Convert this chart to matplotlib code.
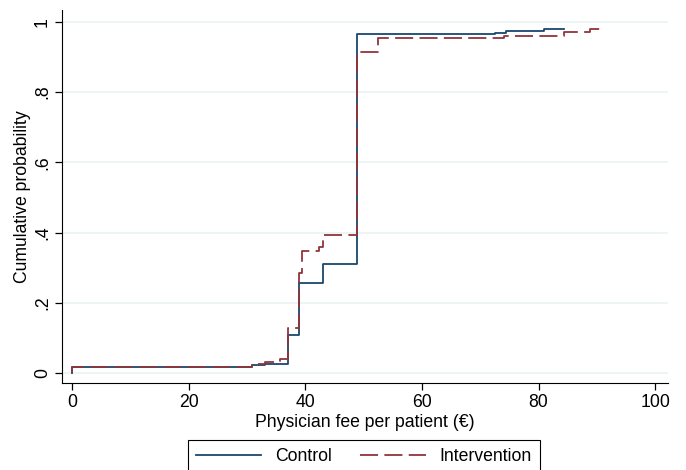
import matplotlib.pyplot as plt

plt.rcParams["font.family"] = ["Liberation Sans", "DejaVu Sans"]

# step points (fee, cumulative probability)
control_fee = [0, 0, 30.8, 33.1, 37.05, 39.0, 43.0, 48.9, 72.6, 74.4, 80.9, 84.4]
control_cdf = [0, 0.018, 0.022, 0.026, 0.107, 0.255, 0.31, 0.966, 0.969, 0.975, 0.979, 0.979]

interv_fee = [0, 0, 30.8, 33.1, 35.7, 37.05, 39.0, 39.4, 42.3, 43.1, 48.9, 52.4,
              74.0, 84.3, 88.8, 91.1]
interv_cdf = [0, 0.018, 0.025, 0.032, 0.041, 0.128, 0.284, 0.348, 0.36, 0.393,
              0.914, 0.953, 0.960, 0.971, 0.980, 0.980]

navy = "#1a476f"
maroon = "#90353b"
fs = 12.7

fig = plt.figure(figsize=(6.86, 4.70), dpi=100)
ax = fig.add_axes([0.0904, 0.185, 0.8834, 0.794])

ax.plot(control_fee, control_cdf, drawstyle="steps-post", color=navy, lw=1.3,
        label="Control")
ax.plot(interv_fee, interv_cdf, drawstyle="steps-post", color=maroon, lw=1.3,
        dashes=(10, 3.5), label="Intervention")

ax.set_xlim(-1.7, 102.2)
ax.set_ylim(-0.0285, 1.034)
ax.set_xticks([0, 20, 40, 60, 80, 100])
ax.set_yticks([0, 0.2, 0.4, 0.6, 0.8, 1])
ax.set_yticklabels(["0", ".2", ".4", ".6", ".8", "1"], rotation=90, va="center")
ax.tick_params(labelsize=fs, length=5, width=0.9, colors="black", pad=3)
ax.grid(axis="y", color="#eaf2f3", lw=1.2)
ax.set_axisbelow(True)
for s in ["top", "right"]:
    ax.spines[s].set_visible(False)
ax.set_xlabel("Physician fee per patient (€)", fontsize=fs, labelpad=2)
ax.set_ylabel("Cumulative probability", fontsize=fs, labelpad=2)

leg = fig.legend(loc="upper center", bbox_to_anchor=(364 / 686, 0.064), ncol=2,
                 fontsize=fs, handlelength=3.7, columnspacing=1.6, fancybox=False,
                 edgecolor="black", framealpha=1, borderpad=0.45, borderaxespad=0)
leg.get_frame().set_linewidth(0.8)

fig.savefig("out.png", dpi=100)
